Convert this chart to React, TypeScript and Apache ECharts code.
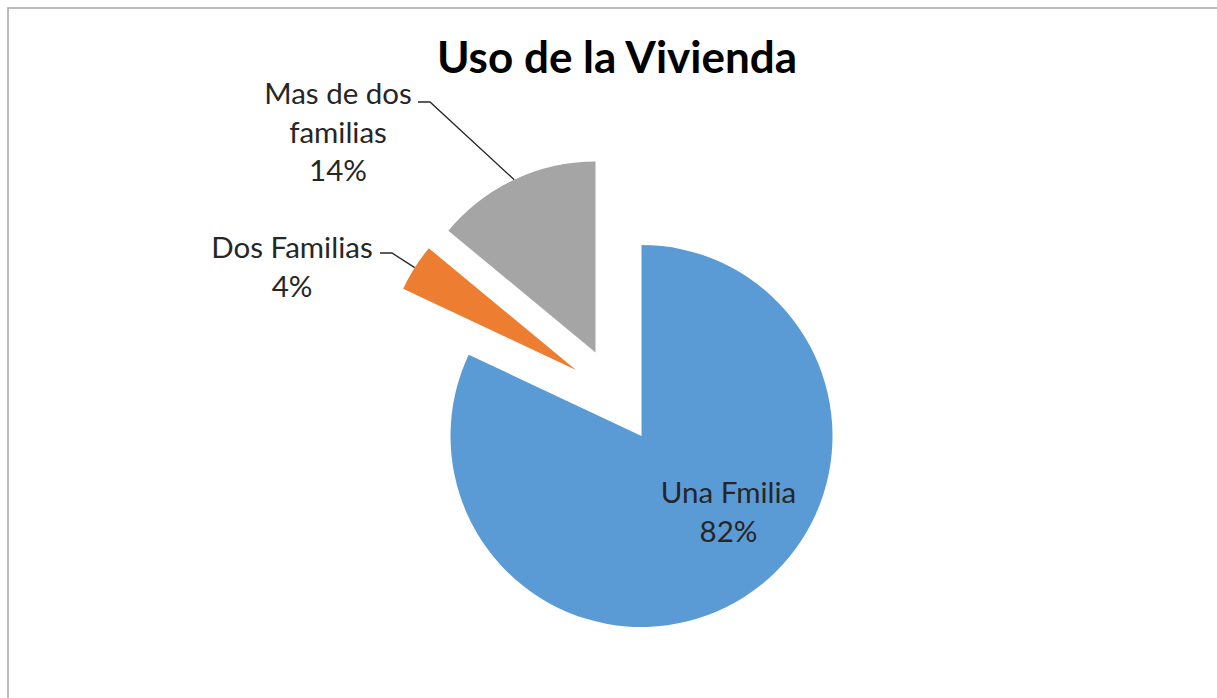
import React, { useEffect, useRef } from "react";
import * as echarts from "echarts";

// ---- data ----
const categories = ["Una Fmilia", "Dos Familias", "Mas de dos familias"];
const labelTexts = ["Una Fmilia", "Dos Familias", "Mas de dos\nfamilias"];
const values = [82, 4, 14];
const colors = ["#5B9BD5", "#ED7D31", "#A5A5A5"];
const titleText = "Uso de la Vivienda";

// ---- layout (pixels) ----
const RADIUS = 191;
// each slice is drawn by its own series so that it can be exploded by its own amount
const sliceCenters = [
  [641.5, 436],
  [576, 370],
  [595.5, 352.5],
];
const labelCenters = [
  [728.5, 511],
  [292, 266],
  [338, 131],
];
const leaderTails: (number[][] | null)[] = [
  null,
  [
    [392, 253],
    [380, 253],
  ],
  [
    [430, 102],
    [418, 102],
  ],
];

const FONT = "Lato, 'Open Sans', sans-serif";

function midAnchor(i: number): number[] {
  const total = values.reduce((a, b) => a + b, 0);
  let before = 0;
  for (let k = 0; k < i; k++) before += values[k];
  const mid = ((before + values[i] / 2) / total) * Math.PI * 2;
  const [cx, cy] = sliceCenters[i];
  return [cx + Math.sin(mid) * RADIUS, cy - Math.cos(mid) * RADIUS];
}

function buildSeries(i: number): any {
  return {
    type: "pie",
    center: sliceCenters[i],
    radius: RADIUS,
    startAngle: 90,
    clockwise: true,
    avoidLabelOverlap: false,
    silent: true,
    emphasis: { disabled: true, scale: false },
    z: 2,
    data: categories.map((name, j) => ({
      name,
      value: values[j],
      itemStyle: { color: j === i ? colors[j] : "rgba(0,0,0,0)" },
      label: { show: j === i },
      labelLine: { show: j === i && i > 0 },
    })),
    label: {
      position: i === 0 ? "inside" : "outside",
      formatter: (p: any) => `${labelTexts[p.dataIndex]}\n${Math.round(p.percent)}%`,
      fontFamily: FONT,
      fontSize: 29.5,
      lineHeight: 38.5,
      color: "#262626",
      align: "center",
    },
    labelLine: {
      show: true,
      length: 20,
      length2: 12,
      lineStyle: { color: "#262626", width: 1.3 },
    },
    labelLayout: (p: any) => {
      if (p.dataIndex !== i) return {};
      const [lx, ly] = labelCenters[i];
      const out: any = { x: lx, y: ly, align: "center", verticalAlign: "middle" };
      const tail = leaderTails[i];
      if (tail) {
        const anchor =
          p.labelLinePoints && p.labelLinePoints[0] ? p.labelLinePoints[0] : midAnchor(i);
        out.labelLinePoints = [anchor, tail[0], tail[1]];
      }
      return out;
    },
  };
}

export default function App() {
  const ref = useRef<HTMLDivElement>(null);
  useEffect(() => {
    if (!ref.current) return;
    const chart = echarts.init(ref.current, null, { renderer: "svg" });
    chart.setOption({
      animation: false,
      backgroundColor: "#ffffff",
      title: {
        text: titleText,
        left: 617,
        top: 34,
        padding: 0,
        textAlign: "center",
        textStyle: {
          fontFamily: FONT,
          fontWeight: "bold",
          fontSize: 44,
          color: "#000000",
        },
      },
      graphic: [
        {
          type: "rect",
          silent: true,
          z: -10,
          shape: { x: 8, y: 8, width: 1400, height: 900 },
          style: { fill: "rgba(0,0,0,0)", stroke: "#A6A6A6", lineWidth: 1.5 },
        },
      ],
      series: [buildSeries(0), buildSeries(1), buildSeries(2)],
    });
    return () => chart.dispose();
  }, []);
  return (
    <div
      ref={ref}
      style={{ position: "absolute", left: 0, top: 0, width: 1217, height: 698 }}
    />
  );
}
